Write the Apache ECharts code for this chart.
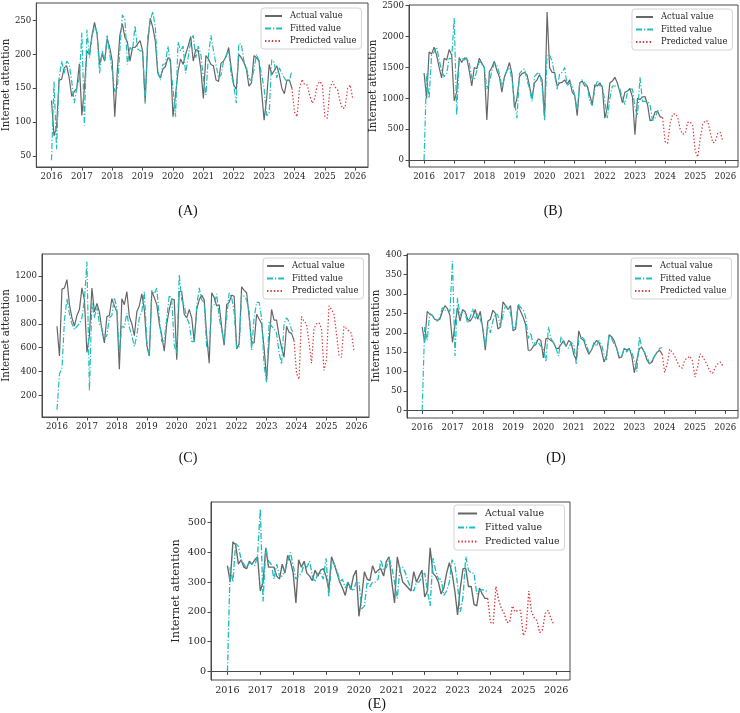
<!DOCTYPE html>
<html>
<head>
<meta charset="utf-8">
<title>Internet attention: actual, fitted and predicted</title>
<script src="https://cdn.jsdelivr.net/npm/echarts@6/dist/echarts.min.js"></script>
<style>
  html, body { margin: 0; padding: 0; background: #fff; }
  #chart { width: 740px; height: 713px; }
</style>
</head>
<body>
<div id="chart"></div>
<script>
// x tick labels (years)
const yearTicks = [2016, 2017, 2018, 2019, 2020, 2021, 2022, 2023, 2024, 2025, 2026]

// monthly observations 2016-01 .. 2023-12, forecast 2024-01 .. 2025-12
const actualA = [
  132, 80, 93, 162, 163, 180, 183, 165, 138, 145, 150, 186,
  110, 150, 205, 200, 228, 247, 230, 185, 200, 190, 223, 210,
  190, 108, 175, 228, 245, 225, 218, 190, 210, 210, 215, 220,
  205, 130, 215, 253, 240, 220, 172, 165, 178, 182, 195, 192,
  108, 140, 175, 193, 185, 200, 212, 226, 190, 207, 205, 178,
  135, 198, 193, 185, 183, 162, 160, 187, 190, 197, 210, 180,
  155, 148, 200, 195, 188, 178, 153, 158, 198, 195, 190, 145,
  103, 135, 185, 170, 176, 183, 170, 150, 142, 162, 162, 150
]
const fittedA = [
  44, 160, 60, 165, 190, 172, 190, 185, 160, 128, 150, 165,
  232, 95, 236, 195, 225, 242, 232, 172, 205, 190, 228, 200,
  175, 145, 150, 205, 258, 252, 185, 210, 205, 242, 208, 205,
  205, 127, 225, 248, 263, 240, 175, 162, 185, 186, 212, 185,
  150, 108, 218, 205, 212, 172, 195, 220, 228, 195, 212, 200,
  165, 140, 198, 228, 205, 185, 165, 170, 190, 198, 205, 170,
  155, 128, 216, 215, 190, 180, 165, 160, 178, 200, 190, 170,
  150, 110, 112, 192, 188, 165, 180, 172, 165, 160, 162, 176
]
const predictedA = [
  115, 108, 150, 163, 155, 155, 140, 128, 135, 155, 160, 155,
  108, 106, 150, 160, 152, 148, 130, 120, 122, 150, 155, 135
]
const yTicksA = [50, 100, 150, 200, 250]

const actualB = [
  1410, 1000, 1750, 1720, 1830, 1700, 1500, 1330, 1650, 1620, 1790, 1700,
  960, 1100, 1660, 1580, 1650, 1650, 1450, 1200, 1500, 1480, 1650, 1570,
  1500, 650, 1430, 1500, 1600, 1450, 1350, 1100, 1350, 1450, 1580, 1400,
  850, 1000, 1350, 1400, 1420, 1380, 1200, 1000, 1250, 1300, 1380, 1300,
  700, 2400, 1500, 1420, 1420, 1200, 1250, 1260, 1300, 1230, 1300, 1100,
  1050, 720, 1250, 1280, 1200, 1200, 1050, 900, 1220, 1200, 1250, 1180,
  680, 850, 1250, 1280, 1340, 1250, 1100, 930, 1100, 1120, 1160, 1020,
  410, 1000, 980, 1020, 1030, 900, 640, 650, 780, 790, 700, 690
]
const fittedB = [
  0, 1400, 1000, 1700, 1750, 1830, 1620, 1450, 1350, 1400, 1650, 1640,
  2300, 730, 1650, 1650, 1620, 1650, 1570, 1330, 1300, 1450, 1600, 1550,
  1500, 1150, 1250, 1450, 1570, 1530, 1400, 1180, 1330, 1450, 1500, 1300,
  950, 680, 1400, 1450, 1480, 1300, 1150, 950, 1350, 1400, 1420, 1200,
  640, 1700, 1700, 1600, 1380, 1150, 1400, 1420, 1500, 1200, 1250, 1200,
  1050, 800, 1250, 1300, 1250, 1200, 950, 880, 1150, 1290, 1200, 1200,
  950, 680, 1000, 1200, 1200, 1200, 1150, 1000, 900, 1100, 1150, 1150,
  850, 720, 1340, 950, 950, 950, 900, 640, 680, 800, 800, 820
]
const predictedB = [
  300, 270, 600, 740, 750, 700, 500, 420, 430, 610, 620, 560,
  150, 50, 350, 580, 640, 630, 450, 280, 300, 440, 450, 300
]
const yTicksB = [0, 500, 1000, 1500, 2000, 2500]

const actualC = [
  780, 530, 1090, 1100, 1170, 960, 850, 780, 870, 920, 1100, 1000,
  560, 700, 1100, 900, 970, 900, 750, 640, 860, 870, 1010, 950,
  900, 420, 1010, 960, 1070, 860, 800, 700, 900, 950, 1050, 920,
  620, 530, 1070, 1020, 960, 800, 700, 570, 800, 920, 1010, 1000,
  500, 1070, 1070, 880, 850, 920, 850, 650, 920, 1000, 1040, 1000,
  700, 470, 1060, 1020, 950, 960, 770, 620, 960, 980, 1040, 1030,
  590, 630, 1110, 1080, 1060, 860, 640, 640, 880, 840, 800, 600,
  330, 650, 920, 830, 830, 700, 600, 520, 780, 730, 720, 660
]
const fittedC = [
  80, 380, 430, 830, 1010, 880, 800, 750, 780, 800, 850, 1000,
  1320, 240, 980, 850, 950, 800, 760, 680, 700, 850, 870, 1020,
  930, 560, 780, 770, 890, 770, 700, 610, 700, 850, 900, 1070,
  650, 530, 1080, 1050, 1100, 850, 650, 660, 850, 1040, 1000, 620,
  550, 1210, 1000, 950, 850, 800, 650, 650, 950, 1100, 1000, 980,
  600, 600, 940, 960, 1050, 850, 750, 650, 850, 1060, 1020, 900,
  600, 600, 1050, 1030, 1000, 900, 580, 850, 980, 980, 850, 450,
  310, 820, 780, 760, 720, 560, 460, 800, 850, 820, 750, 720
]
const predictedC = [
  385, 335, 860, 820, 800, 640, 470, 760, 800, 810, 760, 410,
  500, 950, 920, 880, 720, 540, 520, 780, 760, 740, 720, 580
]
const yTicksC = [200, 400, 600, 800, 1000, 1200]

const actualD = [
  215, 175, 255, 248, 245, 235, 232, 235, 255, 270, 262, 245,
  175, 220, 265, 230, 260, 255, 235, 230, 240, 260, 235, 255,
  210, 155, 230, 235, 258, 250, 210, 215, 280, 270, 260, 270,
  205, 210, 270, 255, 240, 220, 155, 155, 165, 170, 185, 180,
  135, 185, 185, 180, 175, 160, 160, 170, 180, 165, 180, 175,
  145, 130, 205, 185, 180, 160, 145, 155, 170, 180, 175, 155,
  125, 140, 195, 190, 180, 160, 135, 138, 160, 155, 160, 140,
  97, 130, 160, 162, 150, 130, 120, 125, 140, 150, 155, 145
]
const fittedD = [
  0, 215, 180, 250, 245, 235, 230, 240, 265, 258, 260, 255,
  385, 140, 290, 245, 255, 250, 225, 240, 262, 235, 250, 235,
  215, 165, 220, 200, 230, 250, 245, 215, 245, 270, 265, 250,
  210, 215, 275, 265, 260, 240, 185, 200, 165, 180, 175, 165,
  160, 125, 215, 185, 175, 160, 140, 190, 175, 165, 160, 175,
  170, 120, 180, 190, 185, 170, 150, 155, 175, 165, 180, 170,
  145, 130, 195, 185, 170, 160, 140, 140, 160, 150, 160, 150,
  130, 100, 190, 160, 150, 140, 120, 130, 140, 150, 160, 162
]
const predictedD = [
  98, 120, 158, 150, 140, 125, 112, 109, 130, 135, 140, 128,
  86, 110, 146, 138, 128, 115, 100, 96, 110, 120, 125, 115
]
const yTicksD = [0, 50, 100, 150, 200, 250, 300, 350, 400]

const actualE = [
  355, 300, 435, 425, 360, 375, 350, 345, 370, 360, 375, 385,
  270, 300, 415, 350, 350, 350, 320, 310, 360, 330, 390, 370,
  330, 230, 375, 350, 370, 330, 320, 305, 340, 320, 340, 345,
  320, 275, 385, 360, 330, 300, 280, 255, 300, 275, 320, 340,
  185, 250, 335, 310, 305, 355, 330, 340, 345, 320, 370, 385,
  300, 230, 385, 340, 300, 290, 280, 270, 335, 300, 320, 340,
  250, 270, 415, 330, 320, 300, 260, 280, 330, 365, 330, 270,
  190, 280, 345, 345, 285, 285, 225, 220, 280, 260, 245, 245
]
const fittedE = [
  0, 350, 300, 430, 420, 375, 360, 345, 365, 360, 355, 390,
  545, 235, 415, 370, 360, 310, 360, 320, 320, 340, 370, 400,
  355, 310, 320, 330, 360, 350, 370, 320, 300, 330, 330, 310,
  380, 250, 370, 360, 340, 300, 310, 280, 300, 280, 270, 300,
  300, 210, 220, 300, 285, 300, 300, 310, 375, 340, 350, 380,
  350, 300, 245, 350, 350, 330, 300, 280, 270, 300, 300, 320,
  330, 270, 220, 380, 340, 310, 310, 255, 270, 300, 375, 360,
  290, 200, 250, 385, 340, 330, 330, 260, 270, 275, 270, 270
]
const predictedE = [
  165, 160, 285, 240, 210, 195, 165, 165, 220, 200, 205, 205,
  120, 140, 270, 200, 180, 170, 130, 140, 195, 205, 180, 160
]
const yTicksE = [0, 100, 200, 300, 400, 500]

const seriesNames = ['Actual value', 'Fitted value', 'Predicted value']

// month positions on a decimal-year axis
const histMonths = actualA.map((_, i) => 2016 + i / 12)
const predMonths = predictedA.map((_, i) => 2024 + i / 12)

const panels = [
  { tag: '(A)', actual: actualA, fitted: fittedA, predicted: predictedA, ticks: yTicksA, yMin: 34, yMax: 275.5 },
  { tag: '(B)', actual: actualB, fitted: fittedB, predicted: predictedB, ticks: yTicksB, yMin: -112, yMax: 2512 },
  { tag: '(C)', actual: actualC, fitted: fittedC, predicted: predictedC, ticks: yTicksC, yMin: 20, yMax: 1384 },
  { tag: '(D)', actual: actualD, fitted: fittedD, predicted: predictedD, ticks: yTicksD, yMin: -19.5, yMax: 403 },
  { tag: '(E)', actual: actualE, fitted: fittedE, predicted: predictedE, ticks: yTicksE, yMin: -29, yMax: 569 }
]

// layout of each sub-plot (pixels)
const layouts = [
  { left: 36, top: 3, width: 332, height: 164, nameGap: 23, legend: [261, 8], tagPos: [188, 211], scale: 1 },
  { left: 409, top: 5, width: 329, height: 162, nameGap: 31, legend: [632, 9], tagPos: [553, 211], scale: 1 },
  { left: 42, top: 254, width: 327, height: 163, nameGap: 30, legend: [263, 258], tagPos: [188, 458], scale: 1 },
  { left: 407, top: 254, width: 331, height: 164, nameGap: 24, legend: [631, 258], tagPos: [556, 458], scale: 1 },
  { left: 211, top: 502, width: 359, height: 178, nameGap: 29, legend: [454, 505], tagPos: [377, 704], scale: 1.12 }
]

const serif = '"DejaVu Serif", serif'
const frameColor = '#4a4a4a'
const textColor = '#262626'

const chart = echarts.init(document.getElementById('chart'), null, { renderer: 'canvas' })

const option = {
  animation: false,
  backgroundColor: '#fff',
  grid: layouts.map(l => ({
    left: l.left, top: l.top, width: l.width, height: l.height,
    show: true, borderColor: frameColor, borderWidth: 1, backgroundColor: 'transparent'
  })),
  xAxis: panels.map((p, i) => ({
    type: 'value',
    gridIndex: i,
    min: 2015.5,
    max: 2026.42,
    axisLine: { show: true, lineStyle: { color: frameColor, width: 1 } },
    axisTick: { show: true, customValues: yearTicks, length: 3.5, lineStyle: { color: frameColor } },
    axisLabel: {
      customValues: yearTicks,
      formatter: v => String(v),
      fontFamily: serif,
      fontSize: 8.6 * layouts[i].scale,
      color: textColor,
      margin: 5
    },
    splitLine: { show: false }
  })),
  yAxis: panels.map((p, i) => ({
    type: 'value',
    gridIndex: i,
    min: p.yMin,
    max: p.yMax,
    name: 'Internet attention',
    nameLocation: 'middle',
    nameGap: layouts[i].nameGap,
    nameTextStyle: { fontFamily: serif, fontSize: 10.2 * layouts[i].scale, color: textColor },
    axisLine: { show: true, lineStyle: { color: frameColor, width: 1 } },
    axisTick: { show: true, customValues: p.ticks, length: 3.5, lineStyle: { color: frameColor } },
    axisLabel: {
      customValues: p.ticks,
      formatter: v => String(v),
      fontFamily: serif,
      fontSize: 8.6 * layouts[i].scale,
      color: textColor,
      margin: 5
    },
    splitLine: { show: false }
  })),
  legend: layouts.map(l => ({
    data: seriesNames,
    orient: 'vertical',
    left: l.legend[0],
    top: l.legend[1],
    itemWidth: 17 * l.scale,
    itemHeight: 8,
    itemGap: 4.5 * l.scale,
    padding: [4, 5, 4, 3],
    selectedMode: false,
    borderColor: '#d4d4d4',
    borderWidth: 1,
    borderRadius: 3,
    backgroundColor: 'rgba(255,255,255,0.85)',
    // hide the marker that line legends draw; the line sample stays
    itemStyle: { opacity: 0 },
    textStyle: { fontFamily: serif, fontSize: 8.4 * l.scale, color: textColor, padding: [0, 0, 0, 3] }
  })),
  graphic: layouts.map((l, i) => ({
    type: 'text',
    x: l.tagPos[0],
    y: l.tagPos[1],
    style: {
      text: panels[i].tag,
      font: '14px "Liberation Serif", "Times New Roman", serif',
      fill: '#111',
      textAlign: 'center',
      textVerticalAlign: 'middle'
    }
  })),
  series: []
}

panels.forEach((p, i) => {
  const lw = 1.2 * layouts[i].scale
  const last = p.actual.length - 1
  option.series.push({
    name: seriesNames[0], type: 'line', xAxisIndex: i, yAxisIndex: i,
    data: histMonths.map((m, j) => [m, p.actual[j]]),
    symbol: 'none', color: '#666666',
    lineStyle: { color: '#666666', width: lw }, z: 2
  })
  option.series.push({
    name: seriesNames[1], type: 'line', xAxisIndex: i, yAxisIndex: i,
    data: histMonths.map((m, j) => [m, p.fitted[j]]),
    symbol: 'none', color: '#1fbdbd',
    lineStyle: { color: '#1fbdbd', width: lw, type: [6, 2, 1.2, 2] }, z: 3
  })
  // forecast continues from the last observed month
  option.series.push({
    name: seriesNames[2], type: 'line', xAxisIndex: i, yAxisIndex: i,
    data: [[histMonths[last], p.actual[last]]].concat(predMonths.map((m, j) => [m, p.predicted[j]])),
    symbol: 'none', color: '#d9363a',
    lineStyle: { color: '#d9363a', width: lw, type: [1.4, 2] }, z: 4
  })
})

chart.setOption(option)
</script>
</body>
</html>
